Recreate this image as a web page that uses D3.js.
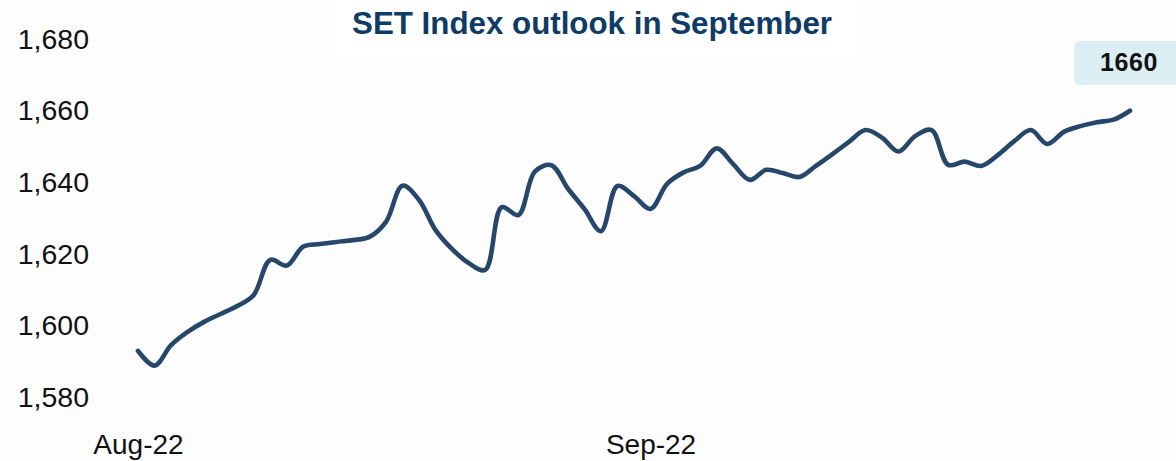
<!DOCTYPE html>
<html>
<head>
<meta charset="utf-8">
<script src="https://cdn.jsdelivr.net/npm/d3@7"></script>
<style>
  html, body { margin: 0; padding: 0; background: #fdfdfd; }
  svg { display: block; font-family: "Liberation Sans", Arial, Helvetica, sans-serif; }
</style>
</head>
<body>
<svg id="chart" width="1176" height="461"></svg>
<script>
// ---- data ----
const title = "SET Index outlook in September";
const startDate = "2022-08-01";
const values = [
  1593.0, 1588.9, 1594.6, 1598.3, 1601.1, 1603.3, 1605.5, 1608.6, 1618.4, 1616.8,
  1622.1, 1622.8, 1623.4, 1623.9, 1624.8, 1629.0, 1639.1, 1635.1, 1626.7, 1621.4,
  1617.5, 1615.6, 1633.1, 1630.9, 1643.0, 1644.8, 1638.3, 1632.6, 1626.4, 1639.0,
  1636.2, 1632.6, 1639.6, 1642.8, 1644.6, 1649.5, 1645.1, 1640.7, 1643.5, 1642.6,
  1641.5, 1644.6, 1647.9, 1651.3, 1654.6, 1652.5, 1648.6, 1652.9, 1654.6, 1644.9,
  1645.8, 1644.6, 1647.6, 1651.5, 1654.6, 1650.7, 1654.1, 1655.7, 1656.8, 1657.5,
  1660.0
];
const yTicks = [1580, 1600, 1620, 1640, 1660, 1680];
const xTicks = ["2022-08-01", "2022-09-01"];
const endLabel = "1660";

// ---- build ----
const parse = d3.timeParse("%Y-%m-%d");
const t0 = parse(startDate);
const data = values.map((v, i) => ({ date: d3.timeDay.offset(t0, i), value: v }));

const svg = d3.select("#chart");

const x = d3.scaleTime()
  .domain([t0, parse("2022-09-30")])
  .range([138, 1130]);
const y = d3.scaleLinear()
  .domain([1580, 1680])
  .range([397.5, 39]);

// title box + title
svg.append("rect")
  .attr("x", 332).attr("y", 0).attr("width", 528).attr("height", 58)
  .attr("fill", "#ffffff");
svg.append("text")
  .attr("x", 592).attr("y", 33.5)
  .attr("text-anchor", "middle")
  .attr("font-size", 31.3)
  .attr("font-weight", "bold")
  .attr("fill", "#0e3c66")
  .text(title);

// y axis
const yAxis = svg.append("g")
  .attr("transform", "translate(89,0)")
  .call(d3.axisLeft(y).tickValues(yTicks).tickSize(0).tickPadding(0)
    .tickFormat(d3.format(",")));
yAxis.select(".domain").remove();
yAxis.selectAll("text")
  .attr("font-size", 28.5)
  .attr("font-family", "'Liberation Sans', Arial, sans-serif")
  .attr("fill", "#111");

// x axis
const xAxis = svg.append("g")
  .attr("transform", "translate(0,434)")
  .call(d3.axisBottom(x).tickValues(xTicks.map(parse)).tickSize(0).tickPadding(0)
    .tickFormat(d3.timeFormat("%b-%y")));
xAxis.select(".domain").remove();
xAxis.selectAll("text")
  .attr("font-size", 28)
  .attr("font-family", "'Liberation Sans', Arial, sans-serif")
  .attr("fill", "#111");

// line
const line = d3.line()
  .x(d => x(d.date))
  .y(d => y(d.value))
  .curve(d3.curveCatmullRom.alpha(0.5));
svg.append("path")
  .datum(data)
  .attr("d", line)
  .attr("fill", "none")
  .attr("stroke", "#26466a")
  .attr("stroke-width", 4.6)
  .attr("stroke-linecap", "round")
  .attr("stroke-linejoin", "round");

// end label
svg.append("rect")
  .attr("x", 1074).attr("y", 41).attr("width", 110).attr("height", 44)
  .attr("rx", 6)
  .attr("fill", "#dbeef4");
svg.append("text")
  .attr("x", 1129).attr("y", 71)
  .attr("text-anchor", "middle")
  .attr("font-size", 25)
  .attr("font-weight", "bold")
  .attr("letter-spacing", 0.6)
  .attr("fill", "#111")
  .text(endLabel);
</script>
</body>
</html>
